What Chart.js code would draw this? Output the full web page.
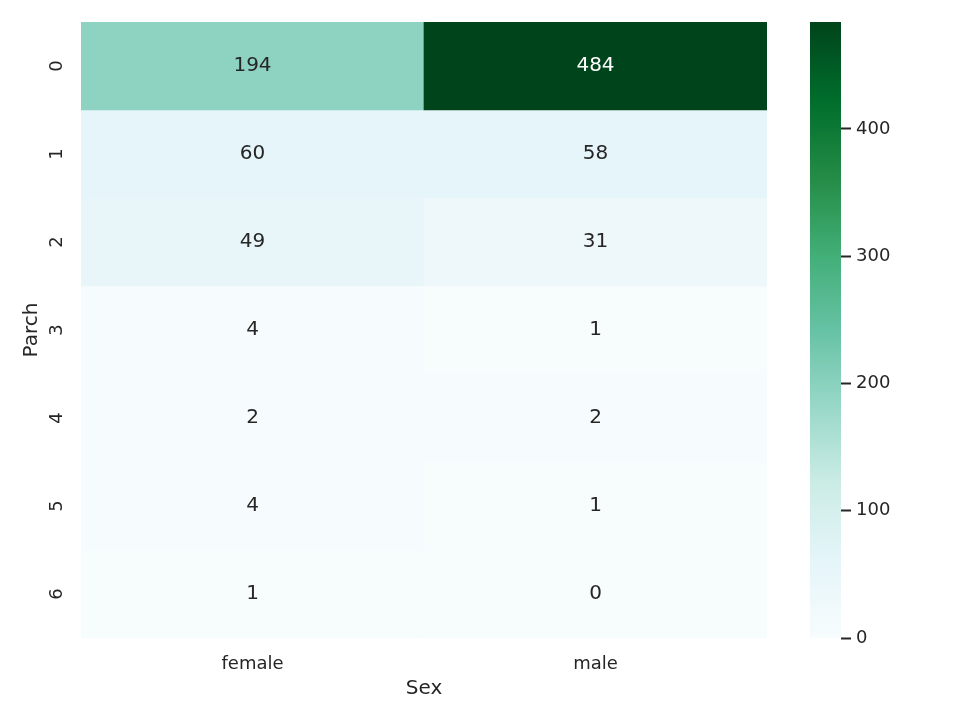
<!DOCTYPE html>
<html>
<head>
<meta charset="utf-8">
<script src="https://cdn.jsdelivr.net/npm/chart.js@4/dist/chart.umd.min.js"></script>
<style>
  html, body { margin: 0; padding: 0; background: #ffffff; }
  #wrap { position: relative; width: 960px; height: 720px; overflow: hidden; }
  #main { position: absolute; left: 0; top: 0; }
  #cbar { position: absolute; left: 810px; top: 0; }
</style>
</head>
<body>
<div id="wrap">
  <canvas id="main" width="960" height="720"></canvas>
  <canvas id="cbar" width="150" height="720"></canvas>
</div>
<script>
// ---- data ----
const parchLabels = ['0', '1', '2', '3', '4', '5', '6'];
const sexLabels = ['female', 'male'];
const femaleCounts = [194, 60, 49, 4, 2, 4, 1];
const maleCounts = [484, 58, 31, 1, 2, 1, 0];
const colorbarTicks = [0, 100, 200, 300, 400];

// ---- style ----
const FONT = "'DejaVu Sans', 'Liberation Sans', sans-serif";
const TEXT = '#262626';
const BUGN = [
  [247, 252, 253], [229, 245, 249], [204, 236, 230], [153, 216, 201],
  [102, 194, 164], [65, 174, 118], [35, 139, 69], [0, 109, 44], [0, 68, 27]
];
const vmin = 0;
const vmax = Math.max(...femaleCounts, ...maleCounts);

function bugnRGB(t) {
  t = Math.min(1, Math.max(0, t));
  const p = t * (BUGN.length - 1);
  const i = Math.min(BUGN.length - 2, Math.floor(p));
  const f = p - i;
  const a = BUGN[i], b = BUGN[i + 1];
  return [0, 1, 2].map(k => Math.round(a[k] + (b[k] - a[k]) * f));
}
function colorFor(v) {
  const c = bugnRGB((v - vmin) / (vmax - vmin));
  return 'rgb(' + c.join(',') + ')';
}
function luminance(v) {
  const c = bugnRGB((v - vmin) / (vmax - vmin)).map(x => {
    x = x / 255;
    return x <= 0.03928 ? x / 12.92 : Math.pow((x + 0.055) / 1.055, 2.4);
  });
  return 0.2126 * c[0] + 0.7152 * c[1] + 0.0722 * c[2];
}

const seriesBySex = [femaleCounts, maleCounts];

const datasets = parchLabels.map((lab, r) => ({
  label: lab,
  data: sexLabels.map(() => [r, r + 1]),
  counts: seriesBySex.map(s => s[r]),
  backgroundColor: seriesBySex.map(s => colorFor(s[r])),
  borderWidth: 0,
  grouped: false,
  categoryPercentage: 1.0,
  barPercentage: 1.0
}));

const annotPlugin = {
  id: 'annot',
  afterDatasetsDraw(chart) {
    const ctx = chart.ctx;
    ctx.save();
    ctx.font = '20px ' + FONT;
    ctx.textAlign = 'center';
    ctx.textBaseline = 'middle';
    chart.data.datasets.forEach((ds, di) => {
      const meta = chart.getDatasetMeta(di);
      meta.data.forEach((el, j) => {
        const v = ds.counts[j];
        const cx = el.x;
        const cy = (el.y + el.base) / 2;
        ctx.fillStyle = luminance(v) > 0.408 ? TEXT : '#ffffff';
        ctx.fillText(String(v), cx, cy);
      });
    });
    ctx.restore();
  }
};

new Chart(document.getElementById('main'), {
  type: 'bar',
  data: { labels: sexLabels, datasets },
  options: {
    responsive: false,
    animation: false,
    events: [],
    layout: { padding: { left: 0, top: 22, right: 193, bottom: 0 } },
    plugins: { legend: { display: false }, tooltip: { enabled: false } },
    scales: {
      x: {
        type: 'category',
        grid: { display: false },
        border: { display: false },
        ticks: { color: TEXT, font: { family: FONT, size: 18 }, padding: 8, maxRotation: 0 },
        title: { display: true, text: 'Sex', color: TEXT, font: { family: FONT, size: 20 }, padding: { top: 0, bottom: 19 } },
        afterFit(s) { s.height = 82; s.paddingLeft = 0; s.paddingRight = 0; }
      },
      y: {
        type: 'linear',
        min: 0,
        max: parchLabels.length,
        reverse: true,
        grid: { display: false },
        border: { display: false },
        afterBuildTicks(s) { s.ticks = parchLabels.map((l, i) => ({ value: i + 0.5 })); },
        ticks: {
          color: TEXT,
          font: { family: FONT, size: 18 },
          padding: 10,
          minRotation: 90,
          maxRotation: 90,
          crossAlign: 'center',
          callback: (v) => parchLabels[Math.floor(v)]
        },
        title: { display: true, text: 'Parch', color: TEXT, font: { family: FONT, size: 20 }, padding: { top: 20, bottom: 0 } },
        afterFit(s) { s.width = 81; s.paddingTop = 0; s.paddingBottom = 0; }
      }
    }
  },
  plugins: [annotPlugin]
});

// ---- colorbar ----
new Chart(document.getElementById('cbar'), {
  type: 'bar',
  data: {
    labels: ['cb'],
    datasets: [{
      data: [[vmin, vmax]],
      borderWidth: 0,
      categoryPercentage: 1.0,
      barPercentage: 1.0,
      backgroundColor(c) {
        const a = c.chart.chartArea;
        if (!a) return colorFor(vmax);
        const g = c.chart.ctx.createLinearGradient(0, a.bottom, 0, a.top);
        BUGN.forEach((col, i) => g.addColorStop(i / (BUGN.length - 1), 'rgb(' + col.join(',') + ')'));
        return g;
      }
    }]
  },
  options: {
    responsive: false,
    animation: false,
    events: [],
    layout: { padding: { left: 0, top: 22, right: 0, bottom: 82 } },
    plugins: { legend: { display: false }, tooltip: { enabled: false } },
    scales: {
      x: { display: false },
      y: {
        type: 'linear',
        position: 'right',
        min: vmin,
        max: vmax,
        afterBuildTicks(s) { s.ticks = colorbarTicks.map(v => ({ value: v })); },
        grid: { display: true, drawOnChartArea: false, drawTicks: true, tickLength: 10, tickColor: TEXT, tickWidth: 2, color: TEXT },
        border: { display: false },
        ticks: { color: TEXT, font: { family: FONT, size: 18 }, padding: 5 },
        afterFit(s) { s.width = 119; s.paddingTop = 0; s.paddingBottom = 0; }
      }
    }
  }
});
</script>
</body>
</html>
